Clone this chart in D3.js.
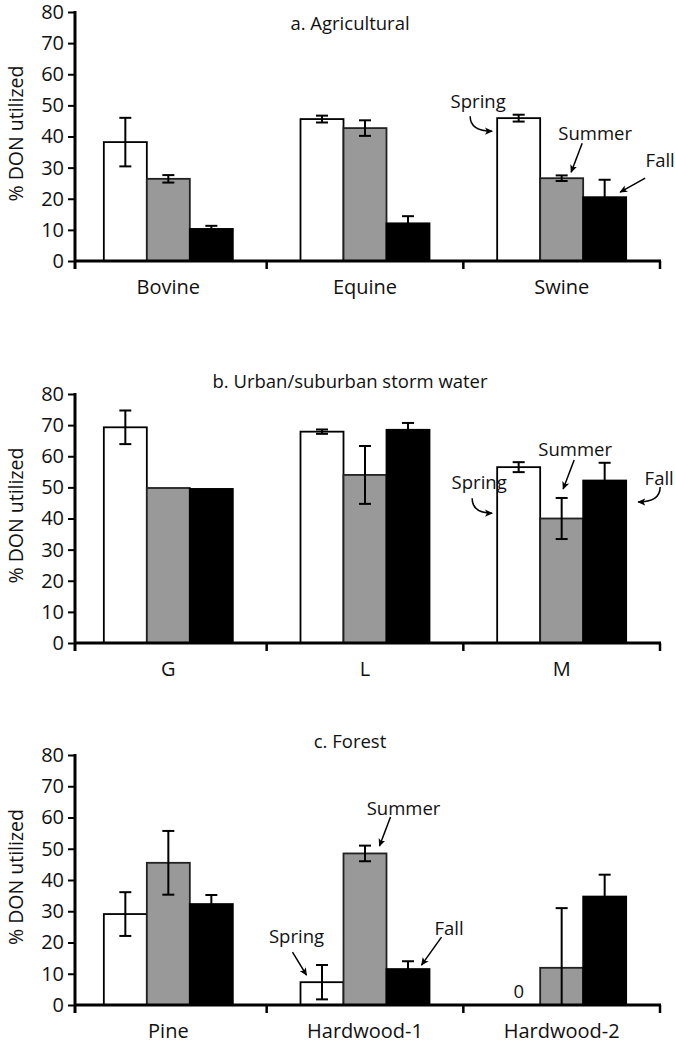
<!DOCTYPE html>
<html>
<head>
<meta charset="utf-8">
<script src="https://cdn.jsdelivr.net/npm/d3@7"></script>
<style>
  html, body { margin: 0; padding: 0; background: #fff; }
  svg { display: block; font-family: "Open Sans", sans-serif; }
</style>
</head>
<body>
<svg id="chart" width="675" height="1045"></svg>
<script>
// Seasons and their bar fills
const seasons = ["Spring", "Summer", "Fall"];
const seasonFills = ["#ffffff", "#999999", "#000000"];
const yTicks = [0, 10, 20, 30, 40, 50, 60, 70, 80];

// a. Agricultural — mean % DON utilized and error, per category [Spring, Summer, Fall]
const agriCategories = ["Bovine", "Equine", "Swine"];
const agriMeans  = [[38.2, 26.4, 10.3], [45.6, 42.7, 12.1], [45.9, 26.6, 20.5]];
const agriErrors = [[7.8, 1.2, 1.0], [1.1, 2.5, 2.3], [1.1, 0.9, 5.6]];

// b. Urban/suburban storm water
const urbanCategories = ["G", "L", "M"];
const urbanMeans  = [[69.3, 49.8, 49.5], [67.9, 54.0, 68.5], [56.5, 40.0, 52.2]];
const urbanErrors = [[5.4, 0, 0], [0.7, 9.3, 2.2], [1.6, 6.6, 5.7]];

// c. Forest
const forestCategories = ["Pine", "Hardwood-1", "Hardwood-2"];
const forestMeans  = [[29.1, 45.5, 32.3], [7.3, 48.5, 11.5], [0, 11.9, 34.7]];
const forestErrors = [[7.0, 10.2, 2.9], [5.5, 2.5, 2.5], [0, 19.1, 7.0]];

// Season call-outs: which bar they point at, text offset and arrow path relative to that bar
const agriNotes = [
  { text: "Spring", cat: 2, season: 0, ref: "left",   tx: -19,  ty: -10,   path: [[-27, -2], [-5, 13]], curve: true },
  { text: "Summer", cat: 2, season: 1, ref: "center", tx: 33.5, ty: -38,   path: [[20.5, -35], [9.5, -6]] },
  { text: "Fall",   cat: 2, season: 2, ref: "right",  tx: 34,   ty: -30,   path: [[19, -19], [-6, -5]] }
];
const urbanNotes = [
  { text: "Spring", cat: 2, season: 0, ref: "left",   tx: -18,  ty: 22,    path: [[-25, 31], [-5, 46]], curve: true },
  { text: "Summer", cat: 2, season: 1, ref: "center", tx: 13.5, ty: -62.5, path: [[12.5, -58.5], [1.5, -29.5]] },
  { text: "Fall",   cat: 2, season: 2, ref: "right",  tx: 33,   ty: 4.5,   path: [[34, 6.5], [12, 21.5]], curve: true }
];
const forestNotes = [
  { text: "Spring", cat: 1, season: 0, ref: "left",   tx: -4,   ty: -39,   path: [[-8, -30], [6, -7]] },
  { text: "Summer", cat: 1, season: 1, ref: "center", tx: 38.5, ty: -38.4, path: [[25.5, -36.4], [14.5, -7.4]] },
  { text: "Fall",   cat: 1, season: 2, ref: "right",  tx: 19.5, ty: -34,   path: [[12, -32], [-8, -4]] }
];

const panels = [
  { title: "a. Agricultural", cats: agriCategories, means: agriMeans, errs: agriErrors,
    notes: agriNotes, top: 12, zero: 261, titleY: 30 },
  { title: "b. Urban/suburban storm water", cats: urbanCategories, means: urbanMeans, errs: urbanErrors,
    notes: urbanNotes, top: 394, zero: 643, titleY: 388 },
  { title: "c. Forest", cats: forestCategories, means: forestMeans, errs: forestErrors,
    notes: forestNotes, top: 755, zero: 1005, titleY: 748, zeroLabels: true }
];

const svg = d3.select("#chart");
const axisX = 75;
const axisEnd = 661;
const groupWidth = 129;
const capHalf = 6;

svg.append("defs").append("marker")
  .attr("id", "arrowhead")
  .attr("viewBox", "0 0 10 10")
  .attr("refX", 9).attr("refY", 5)
  .attr("markerWidth", 8).attr("markerHeight", 8)
  .attr("markerUnits", "userSpaceOnUse")
  .attr("orient", "auto")
  .append("path")
  .attr("d", "M0,0.5 L10,5 L0,9.5 L2.5,5 Z")
  .attr("fill", "#000");

panels.forEach(p => {
  const g = svg.append("g");

  const y = d3.scaleLinear().domain([0, 80]).range([p.zero, p.top]);
  const x0 = d3.scaleBand().domain(p.cats).range([70, 660]);
  const x1 = d3.scaleBand().domain(seasons).range([-groupWidth / 2, groupWidth / 2]);
  const center = c => x0(c) + x0.bandwidth() / 2;

  // title
  g.append("text")
    .attr("x", 350).attr("y", p.titleY)
    .attr("text-anchor", "middle")
    .attr("font-size", 18.5)
    .attr("fill", "#111")
    .text(p.title);

  // bars
  const rows = [];
  p.cats.forEach((c, ci) => seasons.forEach((s, si) => {
    rows.push({ cat: c, ci, season: s, si, v: p.means[ci][si], e: p.errs[ci][si] });
  }));

  g.append("g").selectAll("rect")
    .data(rows.filter(d => d.v > 0))
    .join("rect")
    .attr("x", d => center(d.cat) + x1(d.season))
    .attr("y", d => y(d.v))
    .attr("width", x1.bandwidth())
    .attr("height", d => y(0) - y(d.v))
    .attr("fill", d => seasonFills[d.si])
    .attr("stroke", d => d.si === 1 ? "#222" : "#000")
    .attr("stroke-width", 1.8);

  // error bars
  const eb = g.append("g").attr("stroke", "#000").attr("stroke-width", 2).attr("fill", "none");
  rows.filter(d => d.e > 0).forEach(d => {
    const cx = center(d.cat) + x1(d.season) + x1.bandwidth() / 2;
    const hi = d.v + d.e, lo = Math.max(0, d.v - d.e);
    eb.append("line").attr("x1", cx).attr("x2", cx).attr("y1", y(hi)).attr("y2", y(lo));
    eb.append("line").attr("x1", cx - capHalf).attr("x2", cx + capHalf).attr("y1", y(hi)).attr("y2", y(hi));
    if (d.v - d.e > 0) {
      eb.append("line").attr("x1", cx - capHalf).attr("x2", cx + capHalf).attr("y1", y(lo)).attr("y2", y(lo));
    }
  });

  // value labels for bars with no measurable uptake
  if (p.zeroLabels) {
    g.append("g").selectAll("text")
      .data(rows.filter(d => d.v === 0))
      .join("text")
      .attr("x", d => center(d.cat) + x1(d.season) + x1.bandwidth() / 2)
      .attr("y", y(0) - 7)
      .attr("text-anchor", "middle")
      .attr("font-size", 18.5)
      .attr("fill", "#111")
      .text(d => d3.format("d")(d.v));
  }

  // y axis
  const yAxis = g.append("g")
    .attr("transform", `translate(${axisX},0)`)
    .call(d3.axisLeft(y).tickValues(yTicks).tickSize(7).tickSizeOuter(0).tickPadding(4));
  yAxis.select(".domain").remove();
  yAxis.selectAll(".tick line").attr("stroke", "#000").attr("stroke-width", 2);
  yAxis.selectAll(".tick text")
    .attr("font-family", "Open Sans, sans-serif")
    .attr("font-size", 20).attr("fill", "#111");
  g.append("line")
    .attr("x1", axisX).attr("x2", axisX)
    .attr("y1", y(80) - 1).attr("y2", y(0) + 8)
    .attr("stroke", "#000").attr("stroke-width", 3);

  // y axis title
  g.append("text")
    .attr("transform", `translate(23,${(p.top + p.zero) / 2 - 3}) rotate(-90)`)
    .attr("text-anchor", "middle")
    .attr("font-size", 19.5)
    .attr("fill", "#111")
    .text("% DON utilized");

  // x axis with ticks at group boundaries
  const xAxis = g.append("g")
    .attr("transform", `translate(0,${y(0)})`)
    .call(d3.axisBottom(x0).tickSize(0).tickPadding(19));
  xAxis.select(".domain").remove();
  xAxis.selectAll(".tick text")
    .attr("font-family", "Open Sans, sans-serif")
    .attr("font-size", 20).attr("fill", "#111");
  g.append("line")
    .attr("x1", axisX).attr("x2", axisEnd)
    .attr("y1", y(0)).attr("y2", y(0))
    .attr("stroke", "#000").attr("stroke-width", 3);
  g.append("g").selectAll("line")
    .data(p.cats)
    .join("line")
    .attr("x1", c => x0(c) + x0.bandwidth()).attr("x2", c => x0(c) + x0.bandwidth())
    .attr("y1", y(0)).attr("y2", y(0) + 8)
    .attr("stroke", "#000").attr("stroke-width", 2.5);

  // season call-outs
  p.notes.forEach(n => {
    const c = p.cats[n.cat];
    const left = center(c) + x1(seasons[n.season]);
    const refX = n.ref === "left" ? left : n.ref === "right" ? left + x1.bandwidth() : left + x1.bandwidth() / 2;
    const refY = y(p.means[n.cat][n.season]);
    g.append("text")
      .attr("x", refX + n.tx).attr("y", refY + n.ty)
      .attr("text-anchor", "middle")
      .attr("font-size", 18.5)
      .attr("fill", "#111")
      .text(n.text);
    const [a, b] = n.path;
    const sx = refX + a[0], sy = refY + a[1], ex = refX + b[0], ey = refY + b[1];
    const d = n.curve ? `M${sx},${sy} Q${sx},${ey} ${ex},${ey}` : `M${sx},${sy} L${ex},${ey}`;
    g.append("path")
      .attr("d", d)
      .attr("fill", "none")
      .attr("stroke", "#000")
      .attr("stroke-width", 1.5)
      .attr("marker-end", "url(#arrowhead)");
  });
});
</script>
</body>
</html>
